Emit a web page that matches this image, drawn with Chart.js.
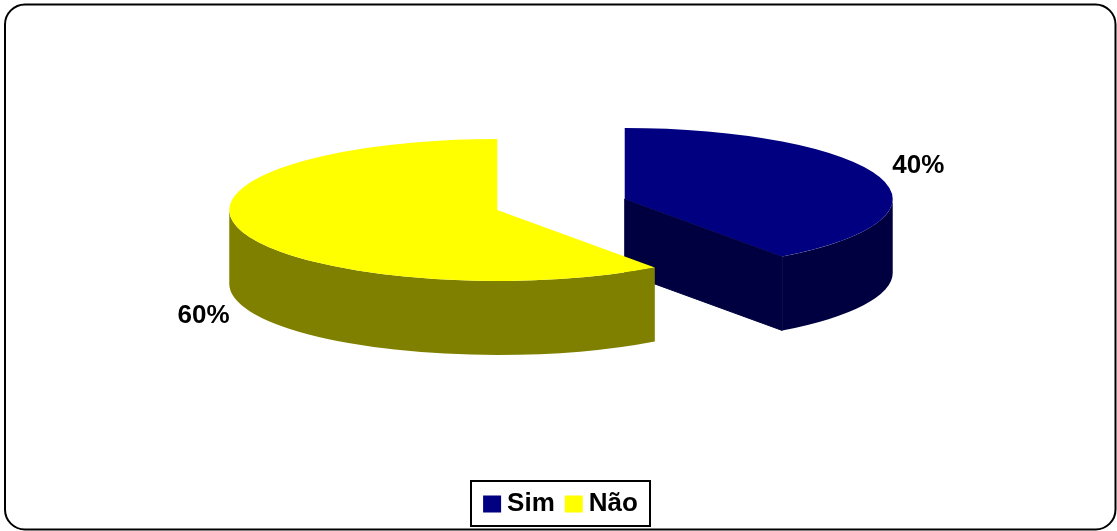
<!DOCTYPE html>
<html>
<head>
<meta charset="utf-8">
<script src="https://cdn.jsdelivr.net/npm/chart.js@4.4.1/dist/chart.umd.min.js"></script>
<style>
  html, body { margin: 0; padding: 0; background: #ffffff; }
  #wrap { position: relative; width: 1117px; height: 531px; }
</style>
</head>
<body>
<div id="wrap"><canvas id="c"></canvas></div>
<script>
// ---- data ----
const categories = ['Sim', 'Não'];
const values = [40, 60];

// ---- styling ----
const topColors = ['#000080', '#FFFF00'];
const sideColors = ['#000040', '#808000'];
const RX = 268;        // projected horizontal radius (px)
const RY = 71;         // projected vertical radius (px)
const DEPTH = 74;      // thickness of the pie (px)
const EXPLODE = 67;    // slice explosion (px along the ellipse)
const FONT = 'bold 26px "Liberation Sans", Arial, sans-serif';

function drawSides(ctx, s, color) {
  const { cx, cy } = s;
  const a1 = s.p.startAngle, a2 = s.p.endAngle;
  ctx.fillStyle = color;
  ctx.strokeStyle = color;
  ctx.lineWidth = 1;
  // radial walls
  const walls = [[a1, Math.cos(a1) < -1e-6], [a2, Math.cos(a2) > 1e-6]];
  for (const [a, vis] of walls) {
    if (!vis) continue;
    const x = cx + RX * Math.cos(a), y = cy + RY * Math.sin(a);
    ctx.beginPath();
    ctx.moveTo(cx, cy);
    ctx.lineTo(x, y);
    ctx.lineTo(x, y + DEPTH);
    ctx.lineTo(cx, cy + DEPTH);
    ctx.closePath();
    ctx.fill();
    ctx.stroke();
  }
  // curved outer wall (front half only)
  const TAU = Math.PI * 2;
  for (let k = -1; k <= 2; k++) {
    const lo = Math.max(a1, k * TAU), hi = Math.min(a2, k * TAU + Math.PI);
    if (hi > lo) {
      ctx.beginPath();
      ctx.ellipse(cx, cy, RX, RY, 0, lo, hi, false);
      ctx.ellipse(cx, cy + DEPTH, RX, RY, 0, hi, lo, true);
      ctx.closePath();
      ctx.fill();
    }
  }
}

const pie3d = {
  id: 'pie3d',
  beforeDatasetsDraw(chart) {
    const ctx = chart.ctx;
    const meta = chart.getDatasetMeta(0);
    const total = values.reduce((a, b) => a + b, 0);
    const slices = meta.data.map((arc, i) => {
      const p = arc.getProps(['x', 'y', 'startAngle', 'endAngle', 'outerRadius'], true);
      const mid = (p.startAngle + p.endAngle) / 2;
      const cx = p.x + EXPLODE * Math.cos(mid);
      const cy = p.y + EXPLODE * (RY / RX) * Math.sin(mid);
      return { arc, i, p, mid, cx, cy };
    }).sort((a, b) => a.cy - b.cy);

    for (const s of slices) {
      drawSides(ctx, s, sideColors[s.i]);
      const R = s.p.outerRadius;
      ctx.save();
      ctx.translate(s.cx, s.cy);
      ctx.scale(RX / R, RY / R);
      ctx.translate(-s.p.x, -s.p.y);
      s.arc.draw(ctx);
      ctx.restore();
    }

    // percentage labels
    ctx.save();
    ctx.font = FONT;
    ctx.fillStyle = '#000000';
    ctx.textBaseline = 'middle';
    for (const s of slices) {
      const c = Math.cos(s.mid), sn = Math.sin(s.mid);
      const f = 1.05;
      const x = s.cx + RX * c * f;
      const y = s.cy + RY * sn * f + (sn > 0 ? DEPTH + 9 : -10);
      ctx.textAlign = c >= 0 ? 'left' : 'right';
      const pct = Math.round(values[s.i] / total * 100) + '%';
      ctx.fillText(pct, x, y);
    }
    ctx.restore();
    return false;
  },
  afterDraw(chart) {
    const ctx = chart.ctx;
    ctx.save();
    // outer rounded frame
    ctx.lineWidth = 2;
    ctx.strokeStyle = '#000000';
    ctx.beginPath();
    ctx.roundRect(5, 4.5, 1110.5, 525, 20);
    ctx.stroke();

    // legend
    ctx.font = FONT;
    ctx.textBaseline = 'middle';
    ctx.textAlign = 'left';
    const box = 18, boxH = 17, gap = 6, itemGap = 10, pad = 12;
    const widths = categories.map(t => ctx.measureText(t).width);
    let content = 0;
    categories.forEach((t, i) => { content += box + gap + widths[i] + (i ? itemGap : 0); });
    const w = content + pad * 2, h = 45;
    const lx = chart.width / 2 + 2 - w / 2;
    const ly = chart.height - 50;
    ctx.lineWidth = 2;
    ctx.strokeRect(Math.round(lx) + 0.0, ly, Math.round(w), h);
    let x = lx + pad;
    const yc = ly + h / 2 + 0.5;
    categories.forEach((t, i) => {
      if (i) x += itemGap;
      ctx.fillStyle = topColors[i];
      ctx.fillRect(x, yc - boxH / 2, box, boxH);
      x += box + gap;
      ctx.fillStyle = '#000000';
      ctx.fillText(t, x, yc);
      x += widths[i];
    });
    ctx.restore();
  }
};

new Chart(document.getElementById('c'), {
  type: 'pie',
  data: {
    labels: categories,
    datasets: [{
      data: values,
      backgroundColor: topColors,
      borderWidth: 0,
      hoverOffset: 0
    }]
  },
  options: {
    responsive: true,
    maintainAspectRatio: false,
    animation: false,
    events: [],
    layout: { padding: { left: 40, right: 35, top: 20, bottom: 142 } },
    plugins: {
      legend: { display: false },
      tooltip: { enabled: false }
    }
  },
  plugins: [pie3d]
});
</script>
</body>
</html>
